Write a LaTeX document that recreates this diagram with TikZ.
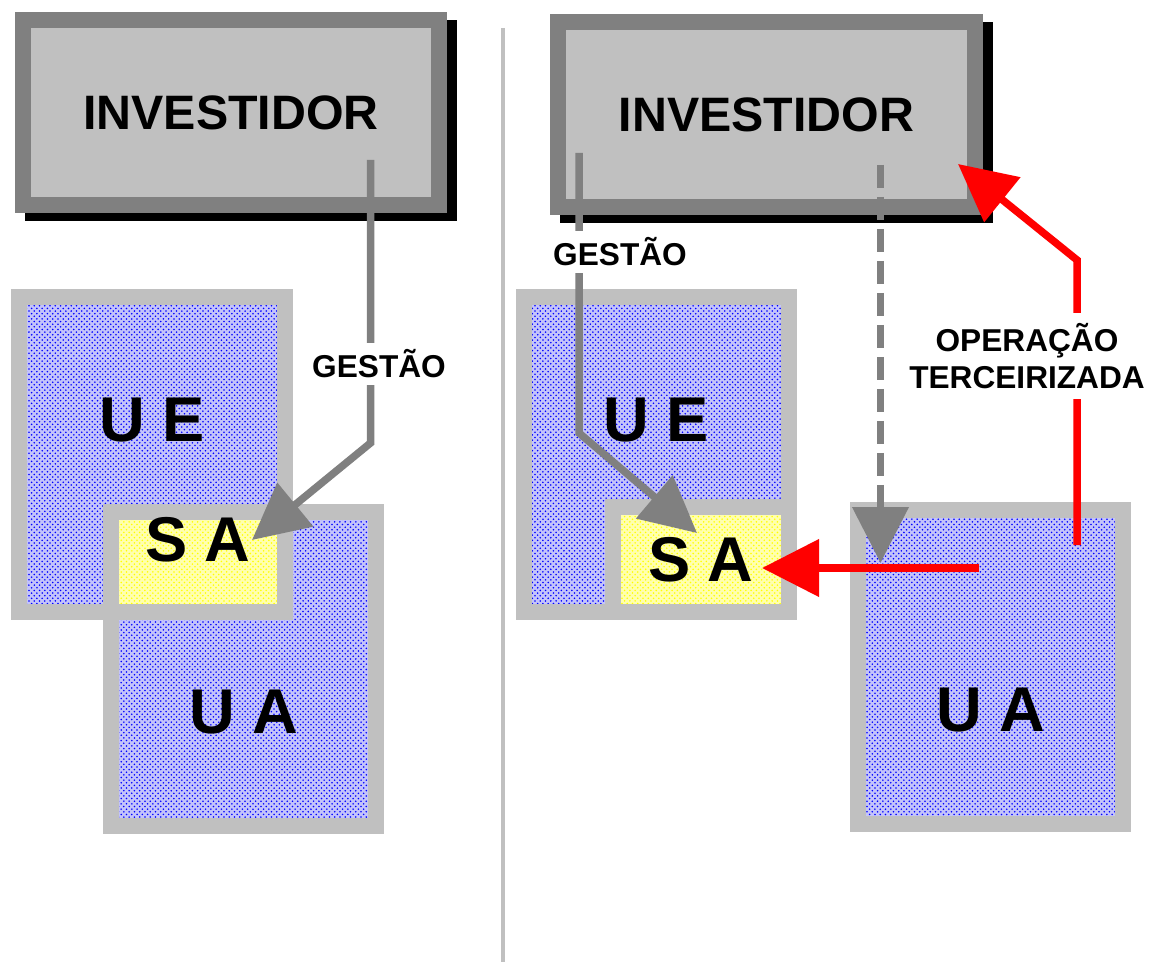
\documentclass[tikz,border=0pt]{standalone}
\usepackage{fontspec}
\setmainfont{Liberation Sans}
\usepackage{tikz}
\usetikzlibrary{arrows.meta}
\usetikzlibrary{calc}
\usetikzlibrary{shadows}
\usetikzlibrary{positioning}
\usetikzlibrary{fit}
\usetikzlibrary{patterns}

\definecolor{darkframe}{RGB}{128,128,128}
\definecolor{lightframe}{RGB}{192,192,192}
\definecolor{unittint}{RGB}{196,196,250}
\definecolor{satint}{RGB}{255,255,175}

\begin{document}
\begin{tikzpicture}[x=0.02cm, y=-0.02cm,
        investor/.style={draw=darkframe, fill=lightframe, line width=0.32cm, outer sep=0pt,
            minimum width=8.33cm, minimum height=3.7cm, font=\fontsize{27.5}{33}\selectfont\bfseries,
            drop shadow={shadow xshift=0.2cm, shadow yshift=-0.16cm, opacity=1, fill=black, draw=black, line width=0.32cm}},
        unit/.style={draw=lightframe, line width=0.32cm, outer sep=0pt, minimum width=5.32cm, minimum height=6.3cm,
            preaction={fill=unittint}, pattern=crosshatch dots, pattern color=blue},
        sabox/.style={draw=lightframe, line width=0.32cm, outer sep=0pt, inner sep=0pt,
            preaction={fill=satint}, pattern=crosshatch dots, pattern color=yellow,
            font=\fontsize{36}{40}\selectfont\bfseries},
        bigtxt/.style={font=\fontsize{36}{40}\selectfont\bfseries},
        lbl/.style={fill=white, inner sep=4pt, align=center, font=\fontsize{18}{21}\selectfont\bfseries},
        flow/.style={draw=darkframe, line width=0.15cm, -{Triangle[length=1.12cm, width=1.1cm]}},
        outsrc/.style={draw=red, line width=0.15cm, -{Triangle[length=1.14cm, width=1.12cm]}}]
        \useasboundingbox (0,0) rectangle (1149,962);

        \node[investor] (inv-l) at (231,112.5) {INVESTIDOR};
        \node[investor] (inv-r) at (766.5,114.5) {INVESTIDOR};

        \node[unit] (ue-l) at (152,454.5) {};
        \node[unit] (ua-l) at (243.5,669) {};
        \node[sabox, fit=(ua-l.north west)(ue-l.south east)] (sa-l) {S A};

        \node[unit] (ue-r) at (656.5,454.5) {};
        \node[sabox, anchor=south east, minimum width=3.54cm, minimum height=2.1cm] (sa-r) at (ue-r.south east) {S A};
        \node[unit] (ua-r) at (990.5,667) {};

        \node[bigtxt] (ue-l-txt) at ([yshift=0.69cm]ue-l.center) {U E};
        \node[bigtxt] (ua-l-txt) at ([yshift=-0.86cm]ua-l.center) {U A};
        \node[bigtxt] (ue-r-txt) at ([yshift=0.69cm]ue-r.center) {U E};
        \node[bigtxt] (ua-r-txt) at ([yshift=-0.86cm]ua-r.center) {U A};

        \coordinate (div-a) at (503,28);
        \coordinate (div-b) at (503,962);
        \draw[lightframe, line width=0.09cm] (div-a) -- (div-b);

        \coordinate (g-l-a) at (370.5,160);
        \coordinate (g-l-b) at (370.5,443);
        \coordinate (g-l-c) at (252,540);
        \draw[flow] (g-l-a) -- (g-l-b) -- (g-l-c);

        \coordinate (g-r-a) at (579,153);
        \coordinate (g-r-b) at (579,433);
        \coordinate (g-r-c) at (697,533);
        \draw[flow] (g-r-a) -- (g-r-b) -- (g-r-c);

        \coordinate (d-a) at (880.5,165);
        \coordinate (d-b) at (880.5,563);
        \draw[flow, dash pattern=on 0.46cm off 0.18cm] (d-a) -- (d-b);

        \coordinate (op-a) at (979,568);
        \coordinate (op-b) at (762,568);
        \draw[outsrc] (op-a) -- (op-b);

        \coordinate (op-c) at (1077,545);
        \coordinate (op-d) at (1077,260);
        \coordinate (op-e) at (958,164);
        \draw[outsrc] (op-c) -- (op-d) -- (op-e);

        \node[lbl] (gestao-l) at (379,364) {GESTÃO};
        \node[lbl] (gestao-r) at (620,252) {GESTÃO};
        \node[lbl, inner ysep=6pt] (terc) at (1027,356) {OPERAÇÃO\\TERCEIRIZADA};
\end{tikzpicture}
\end{document}
